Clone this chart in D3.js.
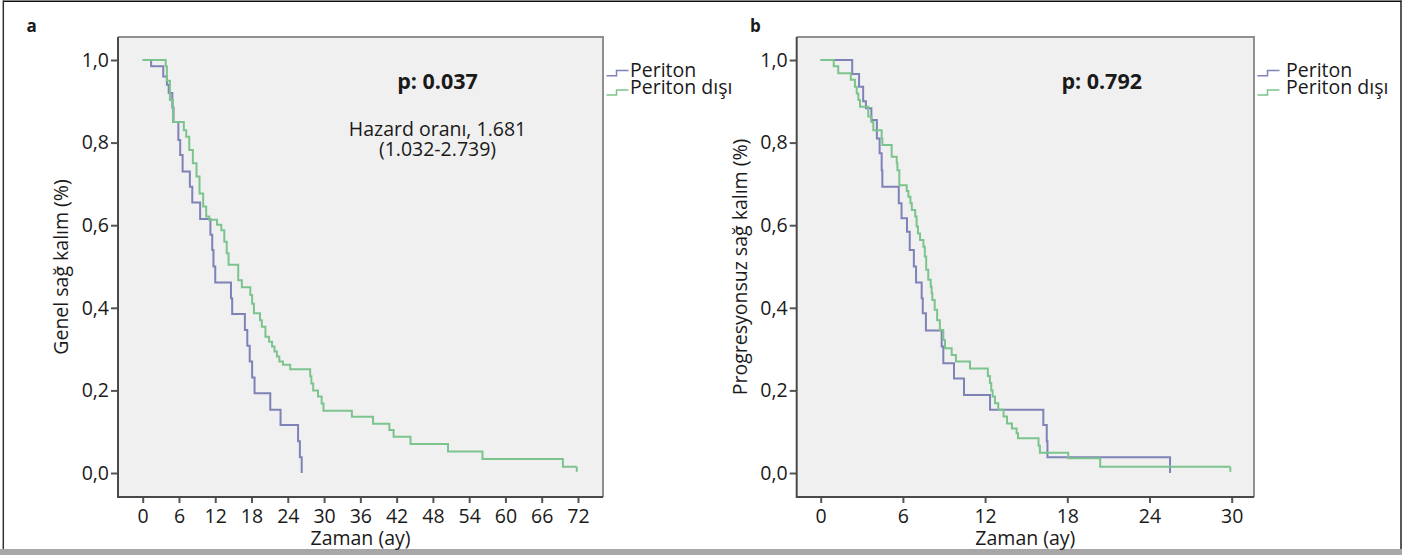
<!DOCTYPE html>
<html><head><meta charset="utf-8">
<script src="https://cdn.jsdelivr.net/npm/d3@7"></script>
<style>
html,body{margin:0;padding:0;background:#fff;}
svg{display:block;}
text{font-family:"Open Sans",sans-serif;fill:#1a1a1a;}
</style></head>
<body>
<script>
// ---------- DATA ----------
const seriesNames = ["Periton", "Periton dışı"];
const xTicksA = [0,6,12,18,24,30,36,42,48,54,60,66,72];
const xTicksB = [0,6,12,18,24,30];
const yTicks = [0,0.2,0.4,0.6,0.8,1.0];

// Panel a (Genel sağ kalım)
const aPeritonT = [0,1.4,3.4,4.0,4.3,4.9,5.1,5.9,6.2,6.6,7.8,8.2,9.5,11.2,11.5,11.7,12.0,14.6,14.8,16.9,17.3,17.7,18.1,18.5,21.1,22.8,25.7,26.0,26.3];
const aPeritonS = [1.0,0.985,0.96,0.94,0.92,0.885,0.85,0.806,0.77,0.73,0.693,0.655,0.615,0.577,0.54,0.5,0.461,0.423,0.385,0.346,0.308,0.27,0.231,0.193,0.153,0.116,0.077,0.038,0.0];
const aDisiT = [0,3.8,4.0,4.5,5.0,6.8,7.2,7.7,8.3,8.9,9.4,10.0,10.5,11.0,12.3,13.0,13.5,13.9,14.2,15.8,16.4,17.8,18.1,18.4,19.4,19.7,20.3,20.9,21.4,21.8,22.2,22.6,23.2,24.4,27.7,27.9,28.2,29.0,29.6,29.9,34.6,38.1,40.8,41.5,44.3,50.5,56.2,69.5,71.8];
const aDisiS = [1.0,0.985,0.95,0.903,0.85,0.83,0.814,0.782,0.75,0.718,0.677,0.645,0.621,0.613,0.601,0.588,0.56,0.532,0.504,0.467,0.45,0.431,0.41,0.387,0.37,0.354,0.33,0.318,0.306,0.294,0.282,0.27,0.262,0.251,0.234,0.217,0.2,0.185,0.168,0.151,0.136,0.119,0.104,0.088,0.07,0.052,0.034,0.015,0.015];
const aCensorDisi = [71.8];
const pA = "p: 0.037";
const hazardLines = ["Hazard oranı, 1.681", "(1.032-2.739)"];

// Panel b (Progresyonsuz sağ kalım)
const bPeritonT = [0,2.3,2.8,3.1,3.3,3.7,4.1,4.3,4.45,4.5,5.7,5.9,6.3,6.5,6.8,6.96,7.37,7.45,7.68,8.83,8.95,9.73,10.46,12.36,16.25,16.5,16.55,25.5];
const bPeritonS = [1.0,0.966,0.935,0.9,0.883,0.855,0.81,0.774,0.733,0.693,0.653,0.617,0.584,0.54,0.5,0.461,0.423,0.387,0.345,0.306,0.266,0.229,0.189,0.153,0.116,0.077,0.038,0.0];
const bDisiT = [0,0.95,1.28,2.2,2.5,2.63,2.75,2.87,3.47,3.7,3.84,4.45,4.5,5.18,5.55,5.6,5.74,6.28,6.4,6.55,6.65,6.9,7.0,7.1,7.25,7.5,7.6,7.7,7.85,8.03,8.1,8.15,8.32,8.5,8.7,8.95,9.07,9.56,9.87,10.9,12.2,12.35,12.45,12.55,12.72,12.96,13.35,13.6,13.96,14.3,14.4,15.9,16.0,18.07,20.4,29.9];
const bDisiS = [1.0,0.985,0.968,0.952,0.935,0.919,0.903,0.887,0.863,0.85,0.83,0.81,0.794,0.766,0.75,0.733,0.697,0.683,0.669,0.653,0.637,0.621,0.597,0.58,0.564,0.548,0.524,0.492,0.468,0.451,0.435,0.419,0.395,0.37,0.346,0.322,0.302,0.286,0.27,0.253,0.235,0.218,0.2,0.185,0.169,0.153,0.137,0.12,0.108,0.096,0.084,0.066,0.049,0.036,0.015,0.015];
const bCensorDisi = [29.9];
const pB = "p: 0.792";

const yTitleA = "Genel sağ kalım (%)";
const yTitleB = "Progresyonsuz sağ kalım (%)";
const xTitle = "Zaman (ay)";

// ---------- STYLE / LAYOUT ----------
const W = 1413, H = 555;
const colPeriton = "#7e82b6";
const colDisi = "#7cc48d";
const fs = "19.5px";

const svg = d3.select("body").append("svg").attr("width", W).attr("height", H);

// outer frame
svg.append("rect").attr("x",0).attr("y",549).attr("width",1402).attr("height",6).attr("fill","#a7a7a7");
svg.append("line").attr("x1",3).attr("x2",1401.5).attr("y1",1.2).attr("y2",1.2).attr("stroke","#111").attr("stroke-width",1.5);
svg.append("line").attr("x1",3.3).attr("x2",3.3).attr("y1",0.5).attr("y2",549).attr("stroke","#333").attr("stroke-width",1.5);
svg.append("line").attr("x1",1401).attr("x2",1401).attr("y1",0.5).attr("y2",549).attr("stroke","#222").attr("stroke-width",1.5);

const yScale = d3.scaleLinear().domain([0,1]).range([473,60]);
const fmt = v => d3.format(".1f")(v).replace(".", ",");

function panel(cfg){
  const g = svg.append("g");
  const x = d3.scaleLinear().domain(cfg.xDomain).range(cfg.xRange);
  const L = cfg.box[0], R = cfg.box[1], T = 37, B = 497;
  g.append("rect").attr("x",L).attr("y",T).attr("width",R-L).attr("height",B-T).attr("fill","#f0f0f0");
  // top/right border
  g.append("path").attr("d",`M${L},${T}H${R}V${B}`).attr("fill","none").attr("stroke","#8f8f8f").attr("stroke-width",2);

  const line = d3.line().x(d=>x(d[0])).y(d=>yScale(d[1])).curve(d3.curveStepAfter);
  cfg.series.forEach(s=>{
    const pts = s.t.map((t,i)=>[t, s.s[i]]);
    g.append("path").attr("d", line(pts)).attr("fill","none").attr("stroke", s.color)
      .attr("stroke-width",2).attr("stroke-linejoin","miter");
    (s.censor||[]).forEach(ct=>{
      const lvl = s.s[s.s.length-1];
      g.append("line").attr("x1",x(ct)).attr("x2",x(ct)).attr("y1",yScale(lvl)).attr("y2",yScale(lvl)+5)
        .attr("stroke",s.color).attr("stroke-width",2);
    });
  });

  // axes
  const xa = g.append("g").attr("transform",`translate(0,${B})`)
    .call(d3.axisBottom(x).tickValues(cfg.xTicks).tickSize(6).tickPadding(6).tickFormat(d3.format("d")));
  xa.select(".domain").remove();
  xa.selectAll(".tick line").attr("stroke","#555").attr("stroke-width",2);
  xa.selectAll(".tick text").style("font-size",fs).style("font-family","Open Sans").attr("fill","#1a1a1a");
  const ya = g.append("g").attr("transform",`translate(${L},0)`)
    .call(d3.axisLeft(yScale).tickValues(yTicks).tickSize(7).tickPadding(2).tickFormat(fmt));
  ya.select(".domain").remove();
  ya.selectAll(".tick line").attr("stroke","#555").attr("stroke-width",2);
  ya.selectAll(".tick text").style("font-size",fs).style("font-family","Open Sans").attr("fill","#1a1a1a");
  // left and bottom axis lines
  g.append("path").attr("d",`M${L},${T}V${B}H${R}`).attr("fill","none").attr("stroke","#4a4a4a").attr("stroke-width",2);

  // titles
  g.append("text").attr("x",(L+R)/2).attr("y",545).attr("text-anchor","middle").style("font-size",fs).text(xTitle);
  g.append("text").attr("transform",`translate(${cfg.yTitleX},${(T+B)/2}) rotate(-90)`).attr("text-anchor","middle")
    .attr("dy","0.35em").style("font-size",fs).text(cfg.yTitle);
  g.append("text").attr("x",cfg.letterX).attr("y",31.5).style("font-size","17px").style("font-weight","bold").text(cfg.letter);
  g.append("text").attr("x",cfg.pX).attr("y",89.3).attr("text-anchor","middle").style("font-size","21.5px").style("font-weight","bold").text(cfg.p);
  (cfg.notes||[]).forEach((n,i)=>{
    g.append("text").attr("x",cfg.pX).attr("y",135.5+i*20.3).attr("text-anchor","middle").style("font-size",fs).text(n);
  });

  // legend
  cfg.series.forEach((s,i)=>{
    const base = [77.3, 94][i];
    const lx = R + 3.5;
    const low = base - [1.5, -1][i], high = base - [6.8, 4][i] ;
    g.append("path").attr("d",`M${lx},${low}H${lx+10}V${high}H${lx+22}`).attr("fill","none")
      .attr("stroke",s.color).attr("stroke-width",1.5);
    g.append("text").attr("x",cfg.legendX).attr("y",base).style("font-size",fs).text(s.name);
  });
}

panel({
  letter:"a", letterX:26.5, xDomain:[0,72], xRange:[142.7,578], box:[118,603], xTicks:xTicksA,
  yTitle:yTitleA, yTitleX:61, p:pA, pX:437.5, notes:hazardLines, legendX:630,
  series:[
    {name:seriesNames[0], t:aPeritonT, s:aPeritonS, color:colPeriton},
    {name:seriesNames[1], t:aDisiT, s:aDisiS, color:colDisi, censor:aCensorDisi}
  ]
});
panel({
  letter:"b", letterX:750, xDomain:[0,30], xRange:[820.7,1231.7], box:[796.7,1254], xTicks:xTicksB,
  yTitle:yTitleB, yTitleX:740.5, p:pB, pX:1101.7, legendX:1286,
  series:[
    {name:seriesNames[0], t:bPeritonT, s:bPeritonS, color:colPeriton},
    {name:seriesNames[1], t:bDisiT, s:bDisiS, color:colDisi, censor:bCensorDisi}
  ]
});
</script>
</body></html>
